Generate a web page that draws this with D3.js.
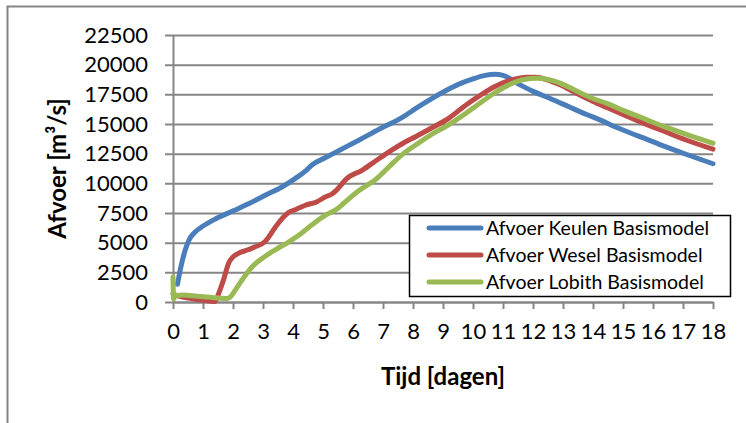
<!DOCTYPE html>
<html>
<head>
<meta charset="utf-8">
<script src="https://cdn.jsdelivr.net/npm/d3@7"></script>
<style>
  body { margin: 0; background: #fff; }
  text { font-family: Lato, "Open Sans", sans-serif; fill: #000; }
</style>
</head>
<body>
<script>
// [dag, afvoer m3/s]
var keulen = [[0.15,1500],[0.25,2800],[0.41,4400],[0.55,5300],[0.74,5900],[1.0,6400],[1.41,7000],[2.07,7750],[2.5,8250],[3.07,9000],[3.6,9650],[4.07,10400],[4.4,11000],[4.63,11550],[5.07,12150],[5.6,12850],[6.24,13700],[6.9,14600],[7.57,15450],[8.24,16550],[9.01,17700],[9.57,18400],[10.0,18800],[10.4,19100],[10.73,19200],[11.0,19100],[11.57,18300],[12.0,17750],[12.57,17150],[13.2,16450],[13.79,15800],[14.23,15350],[14.79,14700],[15.5,14000],[16.3,13200],[17.1,12450],[18,11650]];
var wesel = [[0,700],[0.2,500],[0.6,300],[1.0,150],[1.4,50],[1.52,700],[1.7,2000],[1.85,3250],[2.0,3800],[2.18,4100],[2.5,4400],[2.74,4650],[3.07,5100],[3.41,6300],[3.7,7200],[3.85,7550],[4.1,7800],[4.41,8150],[4.8,8450],[5.07,8850],[5.3,9100],[5.46,9450],[5.79,10400],[6.3,11100],[6.79,11950],[7.2,12650],[7.68,13400],[8.1,13950],[8.57,14600],[9.2,15500],[9.79,16650],[10.2,17350],[10.68,18100],[11.2,18650],[11.79,18950],[12.1,18950],[12.5,18700],[12.9,18300],[13.4,17650],[14.0,16900],[14.5,16350],[15.0,15800],[15.5,15250],[16.3,14450],[17.1,13650],[18,12880]];
var lobith = [[0,2100],[0.02,250],[0.1,550],[0.35,580],[0.8,480],[1.24,400],[1.6,320],[1.8,300],[1.9,400],[2.1,1100],[2.3,1850],[2.63,2950],[2.96,3650],[3.41,4400],[3.85,5050],[4.18,5600],[4.63,6500],[5.07,7300],[5.5,7900],[5.68,8300],[6.2,9400],[6.79,10400],[7.2,11400],[7.68,12500],[8.1,13250],[8.57,14050],[9.2,14950],[9.79,15950],[10.2,16700],[10.68,17550],[11.2,18300],[11.7,18750],[12.12,18850],[12.5,18750],[12.9,18450],[13.4,17850],[14.0,17150],[14.5,16700],[15.0,16150],[15.7,15450],[16.4,14750],[17.2,14050],[18,13380]];

var seriesNames = ["Afvoer Keulen Basismodel", "Afvoer Wesel Basismodel", "Afvoer Lobith Basismodel"];
var seriesColors = ["#4a7ebb", "#be4b48", "#98b954"];
var xTicks = d3.range(0, 19);
var yTicks = d3.range(0, 22501, 2500);

var W = 746, H = 423;
var pLeft = 173, pRight = 713, pTop = 35, pBottom = 302;

var svg = d3.select("body").append("svg")
    .attr("width", W)
    .attr("height", H);

// chart border (only top and left fall inside the picture)
svg.append("rect")
    .attr("x", 7.5).attr("y", 6.5)
    .attr("width", 900).attr("height", 600)
    .attr("fill", "#fff")
    .attr("stroke", "#868686")
    .attr("stroke-width", 2);

var x = d3.scaleLinear().domain([0, 18]).range([pLeft, pRight]);
var y = d3.scaleLinear().domain([0, 22500]).range([pBottom, pTop]);

// gridlines + y axis
var yAxis = svg.append("g")
    .attr("transform", "translate(" + pLeft + ",0)")
    .call(d3.axisLeft(y).tickValues(yTicks).tickFormat(d3.format("d"))
      .tickSize(-(pRight - pLeft)).tickSizeOuter(0).tickPadding(25));
yAxis.select(".domain").attr("stroke", "#868686").attr("stroke-width", 2);
yAxis.selectAll(".tick line")
    .attr("x1", -8)
    .attr("stroke", "#868686").attr("stroke-width", 2);
yAxis.selectAll(".tick text")
    .attr("font-size", "22px")
    .style("font-family", "Lato");

var xAxis = svg.append("g")
    .attr("transform", "translate(0," + pBottom + ")")
    .call(d3.axisBottom(x).tickValues(xTicks).tickSize(7).tickSizeOuter(0).tickPadding(14));
xAxis.select(".domain").attr("stroke", "#868686").attr("stroke-width", 2);
xAxis.selectAll(".tick line").attr("stroke", "#868686").attr("stroke-width", 2);
xAxis.selectAll(".tick text")
    .attr("font-size", "22px")
    .style("font-family", "Lato");

var line = d3.line()
    .x(function(d) { return x(d[0]); })
    .y(function(d) { return y(d[1]); })
    .curve(d3.curveMonotoneX);

[keulen, wesel, lobith].forEach(function(s, i) {
  svg.append("path")
      .datum(s)
      .attr("d", line)
      .attr("fill", "none")
      .attr("stroke", seriesColors[i])
      .attr("stroke-width", 5)
      .attr("stroke-linejoin", "round")
      .attr("stroke-linecap", "round");
});

// axis titles
svg.append("text")
    .attr("transform", "translate(" + 66 + "," + ((pTop + pBottom) / 2) + ") rotate(-90)")
    .attr("text-anchor", "middle")
    .attr("font-size", "24px")
    .attr("font-weight", "bold")
    .text("Afvoer [m³/s]");

svg.append("text")
    .attr("x", (pLeft + pRight) / 2)
    .attr("y", 385)
    .attr("text-anchor", "middle")
    .attr("font-size", "24px")
    .attr("font-weight", "bold")
    .text("Tijd [dagen]");

// legend
var legend = svg.append("g");
legend.append("rect")
    .attr("x", 409.5).attr("y", 215.5)
    .attr("width", 321).attr("height", 81)
    .attr("fill", "#fff")
    .attr("stroke", "#000")
    .attr("stroke-width", 1.5);

seriesNames.forEach(function(name, i) {
  var ly = 228 + i * 27;
  legend.append("line")
      .attr("x1", 429).attr("x2", 481)
      .attr("y1", ly).attr("y2", ly)
      .attr("stroke", seriesColors[i])
      .attr("stroke-width", 5)
      .attr("stroke-linecap", "round");
  legend.append("text")
      .attr("x", 486)
      .attr("y", ly + 7)
      .attr("font-size", "19.5px")
      .text(name);
});
</script>
</body>
</html>
